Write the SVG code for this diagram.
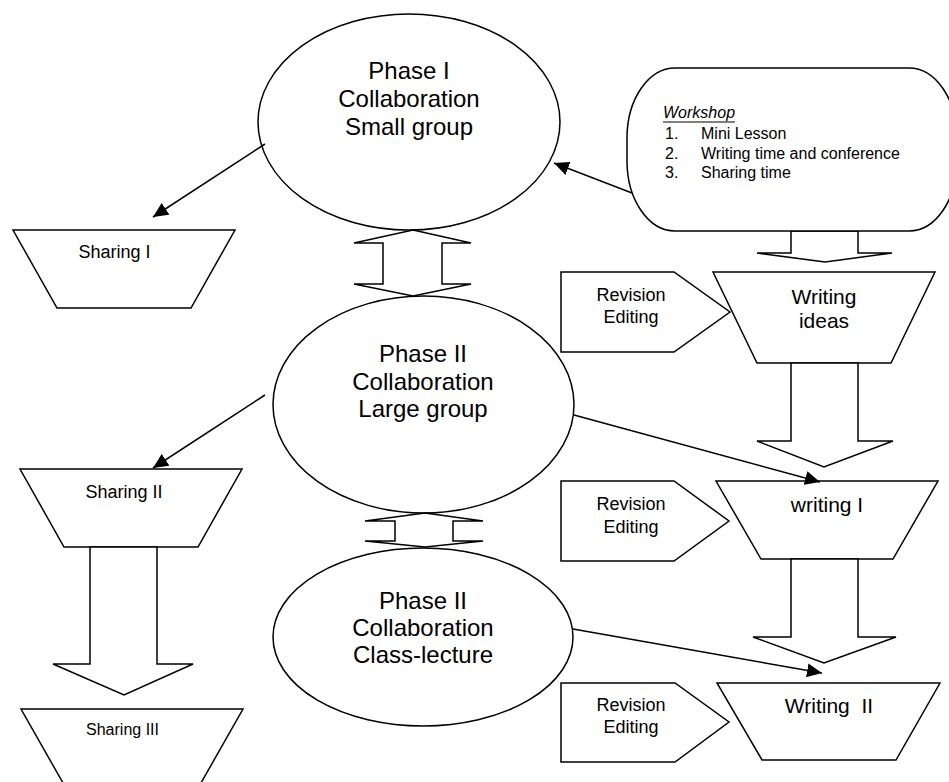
<svg xmlns="http://www.w3.org/2000/svg" width="949" height="782" viewBox="0 0 949 782">
<style>
.s{fill:#fff;stroke:#000;stroke-width:1.5}
.t{font-family:"Liberation Sans",Arial,sans-serif;fill:#000;text-anchor:middle}
.big{font-size:24px}
.mid{font-size:21px}
.sm{font-size:18px}
.ws{font-family:"Liberation Sans",Arial,sans-serif;font-size:16px;fill:#000}
.c{fill:none;stroke:#000;stroke-width:1.5}
</style>
<defs>
<marker id="ah" markerUnits="userSpaceOnUse" markerWidth="16" markerHeight="14" refX="15" refY="7" orient="auto">
<path d="M0,0 L15,7 L0,14 z" fill="#000"/>
</marker>
</defs>
<rect width="949" height="782" fill="#fff"/>

<g id="phase1">
<ellipse class="s" cx="409" cy="122" rx="151" ry="108"/>
<text class="t big" x="409" y="79">Phase I</text>
<text class="t big" x="409" y="107">Collaboration</text>
<text class="t big" x="409" y="135">Small group</text>
</g>

<g id="phase2">
<ellipse class="s" cx="423.5" cy="404.5" rx="150.5" ry="108.5"/>
<text class="t big" x="423" y="362">Phase II</text>
<text class="t big" x="423" y="390">Collaboration</text>
<text class="t big" x="423" y="417">Large group</text>
</g>

<g id="phase3">
<ellipse class="s" cx="423" cy="637" rx="150" ry="89"/>
<text class="t big" x="423" y="609">Phase II</text>
<text class="t big" x="423" y="636">Collaboration</text>
<text class="t big" x="423" y="663">Class-lecture</text>
</g>

<g id="dbl1">
<polygon class="s" points="413,230 471,243 442,243 442,284 471,284 413,296 354,284 383,284 383,243 354,243"/>
</g>
<g id="dbl2">
<polygon class="s" points="425,513 483,521 453,521 453,541 483,541 425,547 365,541 395,541 395,521 365,521"/>
</g>

<g id="arrowWorkshop">
<polygon class="s" points="791,231 791,253 757,253 825,262 892,253 858,253 858,231"/>
</g>
<g id="workshop">
<path class="s" d="M675,68 H909 A48,70 0 0 1 957,138 V161 A48,70 0 0 1 909,231 H675 A48,70 0 0 1 627,161 V138 A48,70 0 0 1 675,68 Z"/>
<text class="ws" x="663" y="118" font-style="italic">Workshop</text>
<line x1="663" y1="122" x2="735" y2="122" stroke="#000" stroke-width="1.2"/>
<text class="ws" x="665" y="139">1.</text>
<text class="ws" x="701" y="139">Mini Lesson</text>
<text class="ws" x="665" y="159">2.</text>
<text class="ws" x="701" y="159">Writing time and conference</text>
<text class="ws" x="665" y="178">3.</text>
<text class="ws" x="701" y="178">Sharing time</text>
</g>

<g id="sharing1">
<polygon class="s" points="13,230 235,230 191,308 57,308"/>
<text class="t sm" x="114.5" y="258">Sharing I</text>
</g>

<g id="sharing2">
<polygon class="s" points="20,469 242,469 198,547 64,547"/>
<text class="t sm" x="124" y="498">Sharing II</text>
</g>
<g id="arrowSharing">
<polygon class="s" points="90,547 90,664 53,664 124,695 193,664 157,664 157,547"/>
</g>
<g id="sharing3">
<polygon class="s" points="21,709 243,709 197,790 67,790"/>
<text class="t" x="122.5" y="735" font-size="16">Sharing III</text>
</g>

<g id="writingIdeas">
<polygon class="s" points="713,272 935,272 891,363 757,363"/>
<text class="t mid" x="824" y="304">Writing</text>
<text class="t mid" x="824" y="328">ideas</text>
</g>
<g id="arrowIdeas">
<polygon class="s" points="791,363 791,441 757,441 824,467 893,441 858,441 858,363"/>
</g>
<g id="writing1">
<polygon class="s" points="716,481 938,481 893,559 761,559"/>
<text class="t mid" x="827" y="512">writing I</text>
</g>
<g id="arrowW1">
<polygon class="s" points="791,559 791,637 753,637 824,663 896,637 858,637 858,559"/>
</g>
<g id="writing2">
<polygon class="s" points="717,683 940,683 896,760 762,760"/>
<text class="t mid" x="829" y="713">Writing&#160; II</text>
</g>

<g id="revision1">
<polygon class="s" points="561,272 674,272 730,312 674,352 561,352"/>
<text class="t sm" x="631" y="301">Revision</text>
<text class="t sm" x="631" y="323">Editing</text>
</g>
<g id="revision2">
<polygon class="s" points="561,481 674,481 729,521 674,561 561,561"/>
<text class="t sm" x="631" y="510">Revision</text>
<text class="t sm" x="631" y="533">Editing</text>
</g>
<g id="revision3">
<polygon class="s" points="561,683 675,683 729,722 675,762 561,762"/>
<text class="t sm" x="631" y="711">Revision</text>
<text class="t sm" x="631" y="733">Editing</text>
</g>

<g id="connectors">
<line class="c" x1="265" y1="144" x2="153" y2="217" marker-end="url(#ah)"/>
<line class="c" x1="632" y1="193" x2="554" y2="163" marker-end="url(#ah)"/>
<line class="c" x1="265" y1="395" x2="153" y2="468" marker-end="url(#ah)"/>
<line class="c" x1="574" y1="415" x2="820" y2="482" marker-end="url(#ah)"/>
<line class="c" x1="573" y1="629" x2="822" y2="673" marker-end="url(#ah)"/>
</g>
</svg>
